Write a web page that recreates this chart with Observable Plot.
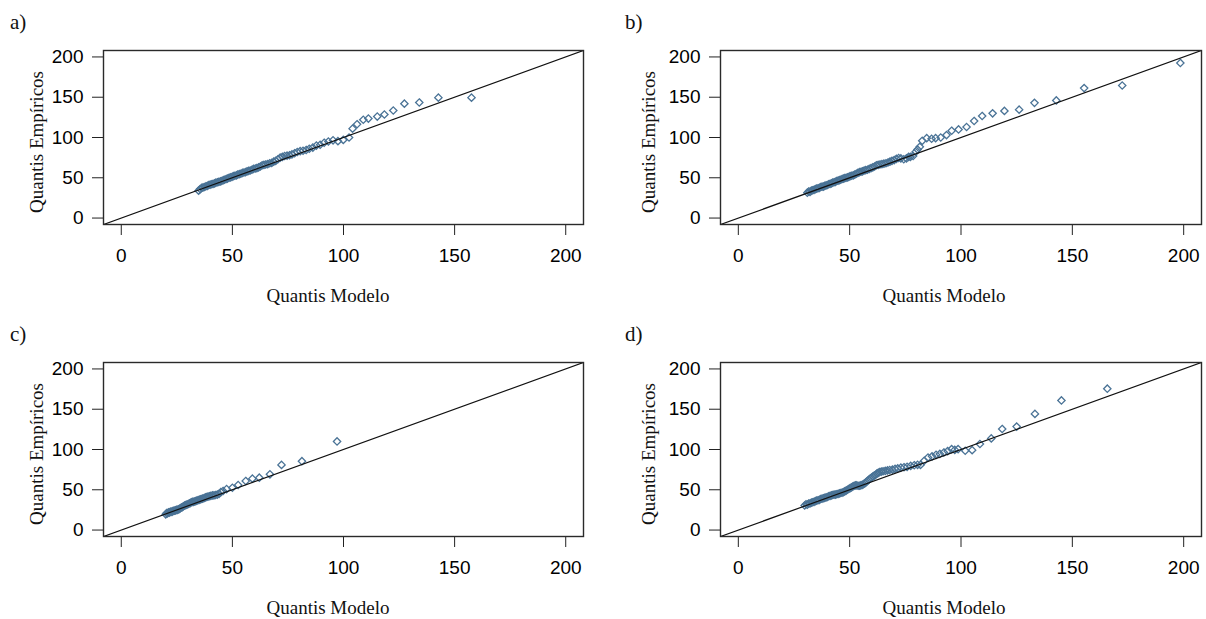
<!DOCTYPE html>
<html>
<head>
<meta charset="utf-8">
<script src="https://cdn.jsdelivr.net/npm/d3@7"></script>
<script src="https://cdn.jsdelivr.net/npm/@observablehq/plot@0.6"></script>
<style>
  html, body { margin: 0; padding: 0; background: #fff; }
  #wrap { position: relative; width: 1206px; height: 619px; overflow: hidden; background: #fff; }
  .panel { position: absolute; }
  .lab { position: absolute; font-family: "Liberation Serif", "Times New Roman", serif; color: #111; white-space: nowrap; line-height: 1; }
  .tag { font-size: 21px; }
  .xl { font-size: 19px; transform: translate(-50%, -50%); }
  .yl { font-size: 19px; transform: translate(-50%, -50%) rotate(-90deg); }
</style>
</head>
<body>
<div id="wrap"></div>
<script>
// ---- data ----
const panelTags = ["a)", "b)", "c)", "d)"];
const xTitle = "Quantis Modelo";
const yTitle = "Quantis Empíricos";
const tickValues = [0, 50, 100, 150, 200];
const axisDomain = [-8, 208];

const aModel = [34.8,35.5,36.2,36.8,37.5,38.1,38.8,39.4,40.0,40.7,41.3,42.0,42.6,43.3,43.9,44.6,45.2,45.9,46.5,47.2,47.8,48.5,49.1,49.8,50.4,51.1,51.8,52.4,53.1,53.8,54.5,55.2,55.9,56.6,57.3,58.0,58.8,59.5,60.3,61.0,61.8,62.6,63.4,64.2,65.0,65.9,66.8,67.7,68.6,69.5,70.5,71.5,72.5,73.5,74.6,75.7,76.8,78.0,79.2,80.5,81.8,83.2,84.6,86.2,87.8,89.5,91.3,93.2,95.3,97.5,99.9,102.5,104.1,106.1,108.9,111.2,115.2,118.4,122.4,127.4,134.1,142.7,157.6];
const aEmp   = [34,36,37.5,38,38.5,39.5,40,41,41.5,42,42.5,43,44,44.5,45,45.5,46,47,47.5,48.5,49,50,50.5,51,52,52.5,53,54,54.5,55,56,56.5,57,58,58.5,59,60,61,61.5,62,63,64,65.5,66,66.5,67,68,68.5,70,71,73,75,76,77,77.5,78,79,80.5,82,83,83.5,84.5,86,87.5,90,91,93.5,95,96.5,95.5,97,100,111,116.5,122,123.5,126,128.5,133.5,142,143.5,149.5,149.5];

const bModel = [31.0,31.6,32.2,32.8,33.4,34.0,34.6,35.2,35.8,36.4,37.0,37.6,38.2,38.8,39.4,40.0,40.6,41.2,41.8,42.4,43.0,43.6,44.2,44.8,45.4,46.0,46.6,47.2,47.8,48.4,49.0,49.6,50.2,50.9,51.6,52.3,53.0,53.7,54.4,55.1,55.8,56.5,57.2,58.0,58.8,59.6,60.4,61.2,62.0,62.8,63.6,64.5,65.4,66.3,67.2,68.1,69.0,70.0,71.0,72.0,73.0,74.3,75.5,76.5,77.3,78.5,79.6,80.5,81.5,82.6,84.6,86.8,88.6,90.9,93.5,95.8,98.9,102.5,105.9,109.5,114.2,119.5,126.1,133.0,142.8,155.3,172.4,198.5];
const bEmp   = [31.5,33,32.5,34,34.5,35,36,36.5,37,37.5,38.5,39,39,40,40.5,41,42,42.5,43,44,44.5,45,46,46.5,47,47.5,48.5,49,49.5,50,50.5,51,52,52.5,53,54,55,56,57,57.5,58,59,59.5,60,61,62,63,64,65.5,66,66.5,67,67.5,68,69,70,71,72,73.5,74.5,74,73,74,76,76,77,82,85,88.4,95.9,99.2,98.4,99.2,100,103,108.4,110,113,120.5,126.7,130,133,134.6,143,146,161.3,164.5,192.5];

const cModel = [20.0,20.4,20.8,21.2,21.6,22.0,22.4,22.8,23.2,23.6,24.0,24.4,24.8,25.2,25.6,26.0,26.5,27.0,27.5,28.0,28.5,29.0,29.5,30.0,30.5,31.0,31.5,32.0,32.5,33.0,33.5,34.0,34.5,35.0,35.5,36.0,36.6,37.2,37.8,38.4,39.0,39.6,40.3,41.0,41.7,42.4,43.2,44.0,44.8,45.8,47.4,50.0,52.6,56.0,59.0,62.1,66.9,72.1,81.3,97.1];
const cEmp   = [19.5,21,20.5,22,21.5,22.5,23,22.5,23.5,24,24,24.5,25,25,25.5,26,27,28,28.5,29.5,30.5,31,31.5,32,33,33.5,34.5,35,35,35.5,36,36.5,37,37.5,38,38.5,39,39.5,40.5,41,41.5,42,42.5,43,43,43.5,44,45,47,48.5,50.9,52.5,55.9,60.9,63.8,65,69.2,80.9,85.5,110];

const dModel = [29.8,30.4,31.0,31.6,32.2,32.8,33.4,34.0,34.6,35.2,35.8,36.4,37.0,37.6,38.2,38.8,39.4,40.0,40.6,41.2,41.8,42.4,43.0,43.6,44.2,44.8,45.4,46.0,46.6,47.2,47.8,48.4,49.0,49.6,50.2,50.8,51.4,52.0,52.6,53.2,53.8,54.4,55.0,55.6,56.2,56.8,57.4,58.0,58.6,59.2,59.8,60.4,61.0,61.6,62.2,62.8,63.4,64.2,65.0,66.0,67.0,68.0,69.2,70.4,71.6,73.0,74.4,75.8,77.4,79.0,80.5,81.8,83.5,85.2,87.0,88.8,90.5,92.3,94.0,95.8,97.2,98.7,101.9,105.0,108.5,113.6,118.5,125.0,133.2,145.1,165.7];
const dEmp   = [30.5,32,31.5,33,33,34,34.5,35,36,36.5,37,37.5,38.5,39,39.5,40,40.5,41,42,42.5,43,43.5,44,44,44.5,45,45.5,46,46.5,47,48,49,50,51,52,53,54,55,55.5,55.5,55,55,55.5,56,57,58,59.5,61,62.5,64,65,66.5,67.5,68.5,70,71,72,72.5,73,73.5,74,74.5,75,76,76.5,77.5,78,78.5,79.6,80.5,81,80.9,86,90,91.5,93.4,94.5,96.3,98,100.5,99.5,100.5,98.4,99.2,106.8,113.8,125.5,128.4,144.2,160.9,175.5];

// ---- layout & style (not data) ----
const panels = [
  {model: aModel, emp: aEmp, left: 0,   top: 0,   ml: 103, mr: 20},
  {model: bModel, emp: bEmp, left: 603, top: 0,   ml: 117, mr: 5},
  {model: cModel, emp: cEmp, left: 0,   top: 312, ml: 103, mr: 20},
  {model: dModel, emp: dEmp, left: 603, top: 312, ml: 117, mr: 5}
];
const W = 603, H = 300, MT = 50, MB = 76;
const pointColor = "#4a7396";

const wrap = document.getElementById("wrap");

panels.forEach((p, i) => {
  const pts = p.model.map((m, k) => ({m, e: p.emp[k]}));
  const diag = axisDomain.map(v => ({v}));
  const chart = Plot.plot({
    width: W, height: H,
    marginTop: MT, marginBottom: MB, marginLeft: p.ml, marginRight: p.mr,
    x: {domain: axisDomain, label: null},
    y: {domain: axisDomain, label: null},
    style: {
      fontFamily: "'Liberation Sans Narrow', 'Arial Narrow', 'Liberation Sans', Arial, sans-serif",
      fontSize: "19px",
      color: "#000",
      background: "transparent",
      overflow: "visible"
    },
    marks: [
      Plot.axisX({ticks: tickValues, tickSize: 11, tickPadding: 13, label: null, stroke: "#222"}),
      Plot.axisY({ticks: tickValues, tickSize: 11, tickPadding: 9, label: null, stroke: "#222"}),
      Plot.dot(pts, {x: "m", y: "e", symbol: "diamond2", r: 3.3, stroke: pointColor, strokeWidth: 1.3, fill: "none"}),
      Plot.line(diag, {x: "v", y: "v", stroke: "#111", strokeWidth: 1.2, clip: true}),
      Plot.frame({stroke: "#2a2a2a", strokeWidth: 1.4})
    ]
  });
  chart.classList.add("panel");
  chart.style.left = p.left + "px";
  chart.style.top = p.top + "px";
  wrap.appendChild(chart);

  const tag = document.createElement("div");
  tag.className = "lab tag";
  tag.textContent = panelTags[i];
  tag.style.left = (p.left === 0 ? 10 : 625) + "px";
  tag.style.top = (p.top + 12) + "px";
  wrap.appendChild(tag);

  const xl = document.createElement("div");
  xl.className = "lab xl";
  xl.textContent = xTitle;
  xl.style.left = (p.left === 0 ? 328 : 944) + "px";
  xl.style.top = (p.top + 295) + "px";
  wrap.appendChild(xl);

  const yl = document.createElement("div");
  yl.className = "lab yl";
  yl.textContent = yTitle;
  yl.style.left = (p.left === 0 ? 36 : 648) + "px";
  yl.style.top = (p.top + 142) + "px";
  wrap.appendChild(yl);
});
</script>
</body>
</html>
